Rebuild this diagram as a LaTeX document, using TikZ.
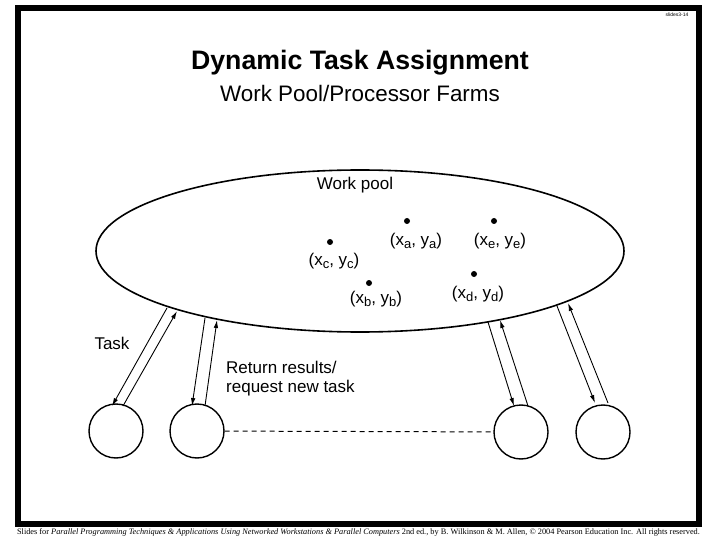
\documentclass[tikz,border=0pt]{standalone}
\usepackage{fontspec}
\setmainfont{Liberation Sans}
\newfontfamily\footfont{Liberation Serif}
\usetikzlibrary{arrows.meta}
\newcommand{\sbx}[1]{\raisebox{-3.5pt}{\fontsize{13}{13}\selectfont #1}}
\tikzset{
  frame/.style={line width=6pt},
  proc/.style={circle, draw, line width=1.4pt, minimum size=54pt, inner sep=0pt},
  pt/.style={circle, fill, inner sep=0pt, minimum size=6pt},
  lbl/.style={font=\fontsize{17}{19}\selectfont},
  msg/.style={line width=0.9pt, -{Latex[length=8pt,width=4.5pt]}},
}
\begin{document}
\begin{tikzpicture}[x=1pt,y=-1pt]
\useasboundingbox (0,0) rectangle (720,540);
\draw[frame] (18,8.5) rectangle (699,524);
\node[font=\fontsize{5}{5}\selectfont] (sl) at (677,15) {slides3-14};
\node[font=\bfseries\fontsize{26.7}{27}\selectfont] (title) at (360,63) {Dynamic Task Assignment};
\node[font=\fontsize{22.4}{23}\selectfont] (sub) at (360,93) {Work Pool/Processor Farms};
\draw[line width=1.6pt] (360,251) ellipse [x radius=264, y radius=81];
\node[lbl] (wp) at (355,185) {Work pool};
% points
\node[pt] (a) at (407,221) {};
\node[pt] (e) at (494,221) {};
\node[pt] (c) at (330,242) {};
\node[pt] (b) at (369,283) {};
\node[pt] (d) at (474,274) {};
\node[lbl] (la) at (416,241) {(x\sbx{a}, y\sbx{a})};
\node[lbl] (le) at (500,241) {(x\sbx{e}, y\sbx{e})};
\node[lbl] (lc) at (334,261) {(x\sbx{c}, y\sbx{c})};
\node[lbl] (lb) at (376,299) {(x\sbx{b}, y\sbx{b})};
\node[lbl] (ld) at (478,294) {(x\sbx{d}, y\sbx{d})};
% processors
\node[proc] (p1) at (116,431) {};
\node[proc] (p2) at (197,431) {};
\node[proc] (p3) at (521,432) {};
\node[proc] (p4) at (603,432) {};
\draw[line width=1pt, dash pattern=on 5pt off 4pt] (p2) -- (p3);
% attachment coordinates on ellipse
\coordinate (t1) at (167,308);
\coordinate (r1) at (177,311);
\coordinate (t2) at (205,318);
\coordinate (r2) at (217,320);
\coordinate (t3) at (488,322);
\coordinate (r3) at (500,320);
\coordinate (t4) at (557,306);
\coordinate (r4) at (568,303);
\coordinate (b1a) at (112,406);
\coordinate (b1b) at (123,406);
\coordinate (b2a) at (192,406);
\coordinate (b2b) at (205,406);
\coordinate (b3a) at (514,406);
\coordinate (b3b) at (528,406);
\coordinate (b4a) at (595,403);
\coordinate (b4b) at (608,403);
\draw[msg] (t1) -- (b1a);
\draw[msg] (b1b) -- (r1);
\draw[msg] (t2) -- (b2a);
\draw[msg] (b2b) -- (r2);
\draw[msg] (t3) -- (b3a);
\draw[msg] (b3b) -- (r3);
\draw[msg] (t4) -- (b4a);
\draw[msg] (b4b) -- (r4);
\node[lbl] (task) at (112,343) {Task};
\node[lbl, align=left, anchor=north west, inner sep=0pt] (ret) at (226,361) {Return results/\\request new task};
\node[font=\footfont\fontsize{8.3}{8.3}\selectfont, inner sep=0pt] (foot) at (358.5,532) {Slides for \textit{Parallel Programming Techniques \& Applications Using Networked Workstations \& Parallel Computers} 2nd ed., by B. Wilkinson \& M. Allen, \textcopyright{} 2004 Pearson Education Inc. All rights reserved.};
\end{tikzpicture}
\end{document}
